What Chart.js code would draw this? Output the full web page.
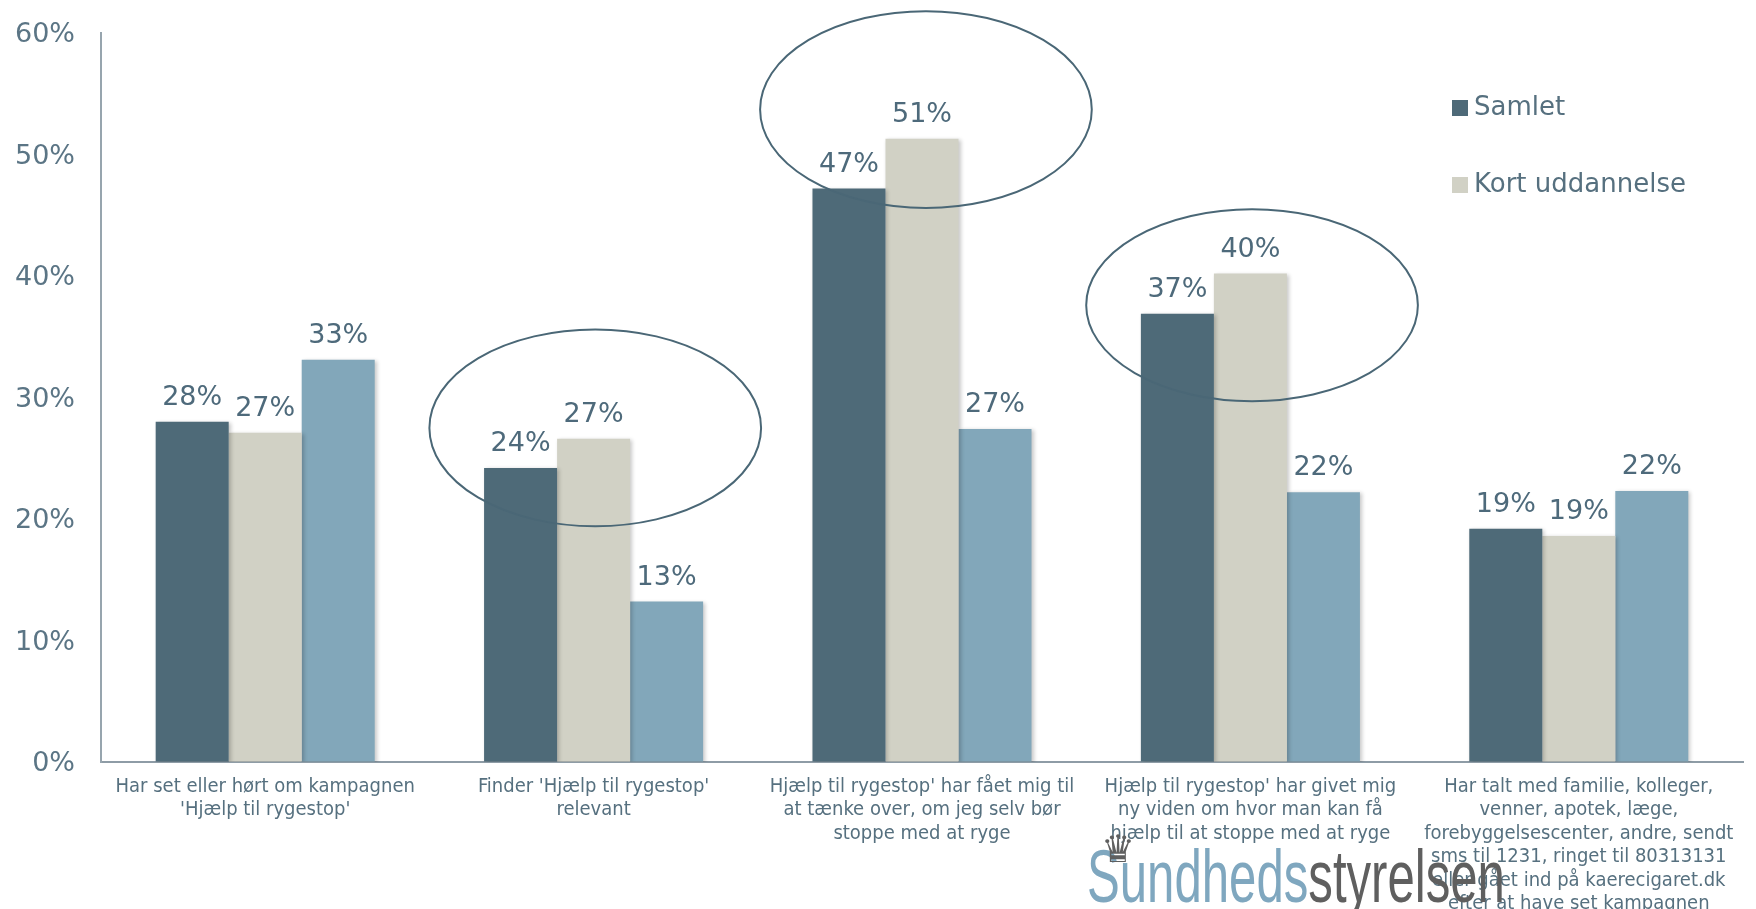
<!DOCTYPE html>
<html lang="da">
<head>
  <meta charset="UTF-8">
  <title>Hjælp til rygestop</title>
  <style>
    body { margin: 0; background: #fff; }
    #wrap { position: relative; width: 1756px; height: 909px; overflow: hidden; }
    #logo { position: absolute; left: 1087px; top: 832px; white-space: nowrap; font-family: "Liberation Sans", sans-serif; font-size: 75px; line-height: 88px; transform-origin: 0 0; }
    #logo .a { color: #7fa7bf; }
    #logo .b { color: #5f5f5f; }
    #crown { position: absolute; left: 1101px; top: 830px; font-family: "DejaVu Sans", sans-serif; font-size: 38px; color: #5f5f5f; line-height: 38px; }
  </style>
</head>
<body>

  <div id="wrap">
    <canvas id="grafico"></canvas>
    <div id="logo"><span class="a">Sundheds</span><span class="b">styrelsen</span></div>
    <div id="crown">♛</div>
  </div>

  <script src="https://cdn.jsdelivr.net/npm/chart.js"></script>

  <script>
    // Kategorier (x-akse)
    const kategorier = [
      ["Har set eller hørt om kampagnen", "'Hjælp til rygestop'"],
      ["Finder 'Hjælp til rygestop'", "relevant"],
      ["Hjælp til rygestop' har fået mig til", "at tænke over, om jeg selv bør", "stoppe med at ryge"],
      ["Hjælp til rygestop' har givet mig", "ny viden om hvor man kan få", "hjælp til at stoppe med at ryge"],
      ["Har talt med familie, kolleger,", "venner, apotek, læge,", "forebyggelsescenter, andre, sendt", "sms til 1231, ringet til 80313131", "eller gået ind på kaerecigaret.dk", "efter at have set kampagnen"]
    ];

    // Serier (procent)
    const samlet = [28.0, 24.2, 47.2, 36.9, 19.2];
    const kortUddannelse = [27.1, 26.6, 51.3, 40.2, 18.6];
    const tredjeGruppe = [33.1, 13.2, 27.4, 22.2, 22.3];

    // y-akse
    const yTicks = [0, 10, 20, 30, 40, 50, 60];

    // Markeringer (ellipser): kategori, centrum i %, halv højde i %
    const ringKategori = [1.005, 2.012, 3.005];
    const ringCentrum = [27.5, 53.7, 37.6];
    const ringHoejde = [8.1, 8.1, 7.9];
    const ringBredde = 0.505; // andel af kategoriens bredde

    const tekstFarve = "#56707f";
    const fontNavn = "'DejaVu Sans', Verdana, sans-serif";

    // Skygge paa soejlerne
    const skyggePlugin = {
      id: "skygge",
      beforeDatasetsDraw(chart) {
        const ctx = chart.ctx;
        ctx.save();
        ctx.shadowColor = "rgba(0,0,0,0.22)";
        ctx.shadowBlur = 4;
        ctx.shadowOffsetX = 2;
        ctx.shadowOffsetY = 1;
      },
      afterDatasetsDraw(chart) {
        chart.ctx.restore();
      }
    };

    // Vaerdier over soejlerne
    const etiketPlugin = {
      id: "etiketter",
      afterDatasetsDraw(chart) {
        const ctx = chart.ctx;
        ctx.save();
        ctx.font = "27px " + fontNavn;
        ctx.fillStyle = "#4e6a7b";
        ctx.textAlign = "center";
        ctx.textBaseline = "alphabetic";
        chart.data.datasets.forEach((ds, i) => {
          chart.getDatasetMeta(i).data.forEach((bar, j) => {
            ctx.fillText(Math.round(ds.data[j]) + "%", bar.x, bar.y - 17);
          });
        });
        ctx.restore();
      }
    };

    // Ellipser og legende
    const ekstraPlugin = {
      id: "ekstra",
      afterDraw(chart) {
        const ctx = chart.ctx;
        const x = chart.scales.x;
        const y = chart.scales.y;
        const katBredde = x.getPixelForValue(1) - x.getPixelForValue(0);
        const x0 = x.getPixelForValue(0);

        ctx.save();
        ctx.strokeStyle = "#4a6776";
        ctx.lineWidth = 2;
        ringKategori.forEach((k, i) => {
          const cx = x0 + k * katBredde;
          const cy = y.getPixelForValue(ringCentrum[i]);
          const ry = y.getPixelForValue(0) - y.getPixelForValue(ringHoejde[i]);
          ctx.beginPath();
          ctx.ellipse(cx, cy, katBredde * ringBredde, ry, 0, 0, Math.PI * 2);
          ctx.stroke();
        });

        // legende
        ctx.font = "26px " + fontNavn;
        ctx.textBaseline = "middle";
        ctx.textAlign = "left";
        let ly = 108;
        chart.data.datasets.forEach(ds => {
          if (!ds.iLegende) return;
          ctx.fillStyle = ds.backgroundColor;
          ctx.fillRect(1452, ly - 8, 16, 16);
          ctx.fillStyle = tekstFarve;
          ctx.fillText(ds.label, 1474, ly);
          ly += 77;
        });
        ctx.restore();
      }
    };

    const lienzo = document.querySelector("#grafico");
    lienzo.width = 1756;
    lienzo.height = 909;

    const grafico = new Chart(lienzo, {
      type: "bar",
      data: {
        labels: kategorier,
        datasets: [
          { label: "Samlet", data: samlet, backgroundColor: "#4e6a78", iLegende: true },
          { label: "Kort uddannelse", data: kortUddannelse, backgroundColor: "#d1d1c5", iLegende: true },
          { label: "", data: tredjeGruppe, backgroundColor: "#82a7ba", iLegende: false }
        ]
      },
      options: {
        responsive: false,
        animation: false,
        layout: { padding: { top: 33, right: 13, left: 0, bottom: 0 } },
        datasets: {
          bar: { barPercentage: 1, categoryPercentage: 0.667 }
        },
        plugins: {
          legend: { display: false },
          tooltip: { enabled: false }
        },
        scales: {
          x: {
            grid: { display: false, drawTicks: false },
            border: { color: "#8e9ca6", width: 2 },
            ticks: {
              color: tekstFarve,
              font: { family: "'DejaVu Sans Condensed', 'DejaVu Sans', sans-serif", size: 20, lineHeight: 1.17 },
              maxRotation: 0,
              autoSkip: false,
              padding: 13
            },
            afterFit(scale) { scale.height = 147; }
          },
          y: {
            min: 0,
            max: 60,
            grid: { display: true, drawOnChartArea: false, drawTicks: true, tickLength: 26, color: "transparent" },
            border: { color: "#97a5ae", width: 2 },
            afterBuildTicks(scale) { scale.ticks = yTicks.map(v => ({ value: v })); },
            ticks: {
              color: "#5b7585",
              font: { family: fontNavn, size: 27 },
              padding: 0,
              labelOffset: 2,
              callback: v => v + "%"
            },
            afterFit(scale) { scale.width = 101; }
          }
        }
      },
      plugins: [skyggePlugin, etiketPlugin, ekstraPlugin]
    });

    // logo tilpasses bredden
    const logo = document.querySelector("#logo");
    const sx = 418 / logo.offsetWidth;
    logo.style.transform = "scale(" + sx + ", 1)";
  </script>

</body>
</html>
